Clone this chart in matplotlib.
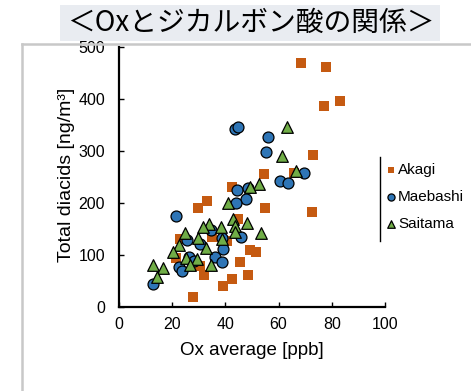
import matplotlib.pyplot as plt
from matplotlib.lines import Line2D
from matplotlib.patches import Rectangle

plt.rcParams['font.family'] = ['Liberation Sans', 'DejaVu Sans']

# Ox average [ppb] vs total diacids [ng/m3]
akagi_x = [68.4, 77.8, 77.1, 83.1, 72.9, 72.6, 54.5, 65.8, 54.9, 42.5, 33.1, 29.7, 44.7, 22.9,
           35.0, 40.6, 21.4, 30.5, 32.0, 45.5, 49.2, 51.5, 48.5, 42.5, 39.1, 27.8]
akagi_y = [469, 462, 387, 396, 292, 183, 256, 258, 190, 231, 204, 190, 169, 131,
           135, 127, 94, 79, 62, 87, 110, 106, 62, 54, 40, 19]

maebashi_x = [43.6, 44.7, 56.0, 55.3, 60.5, 63.5, 69.5, 44.4, 48.5, 47.7, 44.0, 21.4, 34.6,
              38.7, 45.9, 39.1, 36.1, 38.7, 25.6, 30.5, 26.3, 28.2, 22.6, 23.7, 12.8]
maebashi_y = [342, 346, 327, 298, 242, 238, 258, 225, 229, 208, 200, 175, 148,
              133, 135, 112, 96, 87, 129, 121, 96, 88, 77, 69, 44]

saitama_x = [63.2, 61.3, 66.5, 52.6, 49.2, 41.0, 42.9, 48.1, 43.6, 43.6, 53.4, 38.3, 38.7, 33.8,
             31.6, 24.8, 29.7, 22.6, 32.7, 20.3, 25.2, 29.3, 26.7, 34.6, 12.8, 16.5, 14.3]
saitama_y = [346, 290, 262, 237, 231, 200, 169, 162, 156, 144, 142, 154, 131, 160,
             154, 142, 133, 119, 113, 106, 94, 92, 81, 81, 81, 75, 58]

fig = plt.figure(figsize=(4.71, 3.91), dpi=100)

# grey frame around the panel
fig.add_artist(Line2D([22 / 471, 22 / 471], [0, 1 - 44 / 391], color='#c8c8c8', lw=1.8))
fig.add_artist(Line2D([22 / 471, 1], [1 - 44 / 391, 1 - 44 / 391], color='#c8c8c8', lw=1.8))

# title box
fig.add_artist(Rectangle((60 / 471, 1 - 41 / 391), 380 / 471, 36 / 391,
                         transform=fig.transFigure, facecolor='#e9ecf1', edgecolor='none', zorder=3))
fig.text(251 / 471, 1 - 23 / 391, '＜Oxとジカルボン酸の関係＞', ha='center', va='center',
         fontsize=20, family=['Noto Sans CJK JP', 'DejaVu Sans'], zorder=4)

ax = fig.add_axes([119 / 471, 84 / 391, 266 / 471, 260 / 391])

ax.scatter(akagi_x, akagi_y, marker='s', s=52, color='#c55a11', edgecolors='none',
           label='Akagi', zorder=3)
ax.scatter(maebashi_x, maebashi_y, marker='o', s=62, color='#2e75b6', edgecolors='black',
           linewidths=0.9, label='Maebashi', zorder=3)
ax.scatter(saitama_x, saitama_y, marker='^', s=70, color='#70ad47', edgecolors='black',
           linewidths=0.9, label='Saitama', zorder=3)

ax.set_xlim(0, 100)
ax.set_ylim(0, 500)
ax.set_xticks(range(0, 101, 20))
ax.set_yticks(range(0, 501, 100))
for side in ['top', 'right']:
    ax.spines[side].set_visible(False)
for side in ['left', 'bottom']:
    ax.spines[side].set_linewidth(1.6)
ax.tick_params(axis='both', direction='in', length=3.5, width=1, labelsize=11.5)
ax.tick_params(axis='y', pad=10)
ax.tick_params(axis='x', pad=7)

ax.set_xlabel('Ox average [ppb]', fontsize=13.5)
ax.set_ylabel('Total diacids [ng/m³]', fontsize=14)
ax.xaxis.set_label_coords(0.5, -0.135)
ax.yaxis.set_label_coords(-0.165, 0.51)

# legend on the right, partly cut off by the figure edge
fig.add_artist(Line2D([380 / 471, 380 / 471], [1 - 241 / 391, 1 - 157 / 391], color='black', lw=1))
ax.legend(loc='upper left', bbox_to_anchor=(375 / 471, 1 - 153 / 391), bbox_transform=fig.transFigure,
          frameon=False, fontsize=11, handletextpad=0.05, handlelength=0.8, borderpad=0.15,
          labelspacing=0.85, markerscale=0.65)

fig.savefig('out.png', dpi=100)
